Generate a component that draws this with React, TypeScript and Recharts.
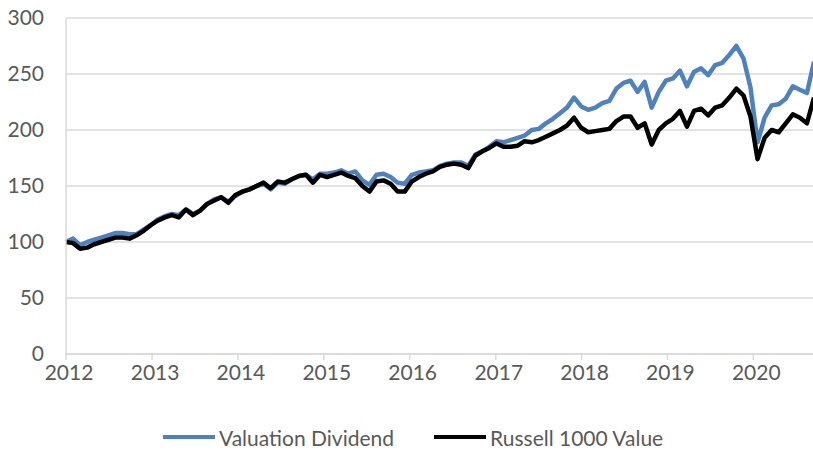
import React from "react";
import {
  LineChart,
  Line,
  XAxis,
  YAxis,
  CartesianGrid,
  Legend,
} from "recharts";

// one point every 30 days from 1 Jan 2012
const START_DATE = "2012-01-01";
const STEP_DAYS = 30;

const yearTicks = [2012, 2013, 2014, 2015, 2016, 2017, 2018, 2019, 2020];
const valueTicks = [0, 50, 100, 150, 200, 250, 300];
const seriesNames = ["Valuation Dividend", "Russell 1000 Value"];

const valuationDividend = [
  100, 103, 97, 100, 102, 104, 106, 108, 108, 107, 107, 111,
  115, 120, 123, 125, 124, 129, 125, 128, 134, 138, 140, 136,
  141, 145, 147, 150, 152, 147, 153, 152, 156, 159, 160, 156,
  161, 161, 162, 164, 161, 163, 155, 151, 160, 161, 158, 153,
  152, 160, 162, 163, 164, 168, 170, 171, 171, 168, 178, 181,
  185, 190, 189, 191, 193, 195, 200, 201, 206, 210, 215, 220,
  229, 221, 218, 220, 224, 226, 237, 242, 244, 234, 243, 220,
  234, 244, 246, 253, 239, 252, 255, 249, 258, 260, 267, 275,
  264, 238, 189, 211, 222, 223, 228, 239, 236, 233, 261,
];

const russell1000Value = [
  100, 99, 94, 95, 98, 100, 102, 104, 104, 103, 106, 110,
  115, 119, 122, 124, 122, 129, 124, 128, 134, 137, 140, 135,
  142, 145, 147, 150, 153, 148, 154, 153, 156, 159, 160, 153,
  160, 158, 160, 162, 159, 157, 150, 145, 154, 155, 152, 145,
  145, 154, 158, 161, 163, 167, 169, 170, 169, 166, 177, 181,
  184, 188, 185, 185, 186, 190, 189, 191, 194, 197, 200, 204,
  211, 202, 198, 199, 200, 201, 208, 212, 212, 202, 206, 187,
  200, 206, 210, 217, 203, 217, 219, 213, 220, 222, 229, 237,
  231, 212, 174, 193, 200, 198, 206, 214, 211, 206, 229,
];

const DAY = 24 * 3600 * 1000;
const start = Date.parse(START_DATE);

const data = russell1000Value.map((r, i) => ({
  day: i * STEP_DAYS,
  valuation: valuationDividend[i],
  russell: r,
}));

const xTicks = yearTicks.map((y) => Math.round((Date.UTC(y, 0, 1) - start) / DAY));
const lastDay = (russell1000Value.length - 1) * STEP_DAYS;

const textColor = "#595959";
const gridColor = "#d9d9d9";
const font = "Lato, 'Open Sans', sans-serif";

function yearOf(day: number) {
  return new Date(start + day * DAY).getUTCFullYear();
}

interface LegendItem {
  value: string;
  color: string;
}

function ChartLegend({ payload }: { payload?: LegendItem[] }) {
  if (!payload) return null;
  // keep series order, recharts sorts by name otherwise
  const items = [...payload].sort(
    (a, b) => seriesNames.indexOf(a.value) - seriesNames.indexOf(b.value)
  );
  return (
    <div
      style={{
        display: "flex",
        alignItems: "center",
        paddingLeft: 163,
        height: 28,
        fontFamily: font,
        fontSize: 21,
        color: textColor,
      }}
    >
      {items.map((p, i) => (
        <div
          key={p.value}
          style={{ display: "flex", alignItems: "center", marginLeft: i > 0 ? 40 : 0 }}
        >
          <span style={{ display: "inline-block", width: 52, height: 4, background: p.color }} />
          <span style={{ marginLeft: 4 }}>{p.value}</span>
        </div>
      ))}
    </div>
  );
}

export default function App() {
  return (
    <div
      style={{
        position: "fixed",
        left: 0,
        top: 0,
        width: 813,
        height: 451,
        overflow: "hidden",
        background: "#fff",
      }}
    >
      <LineChart
        width={830}
        height={451}
        data={data}
        margin={{ top: 18, right: 16, left: 0, bottom: 0 }}
      >
        <CartesianGrid vertical={false} stroke={gridColor} strokeWidth={1.5} />
        <XAxis
          dataKey="day"
          type="number"
          domain={[0, lastDay]}
          ticks={xTicks}
          tickFormatter={yearOf}
          height={69}
          tick={{ fontSize: 21, fill: textColor, fontFamily: font, dx: 3 }}
          tickSize={6}
          tickMargin={5}
          axisLine={{ stroke: gridColor, strokeWidth: 1.5 }}
          tickLine={{ stroke: gridColor, strokeWidth: 1.5 }}
        />
        <YAxis
          domain={[0, 300]}
          ticks={valueTicks}
          width={66}
          tick={{ fontSize: 21, fill: textColor, fontFamily: font }}
          tickLine={false}
          tickMargin={16}
          axisLine={{ stroke: gridColor, strokeWidth: 1.5 }}
        />
        <Legend
          verticalAlign="bottom"
          height={28}
          wrapperStyle={{ left: 0, width: 813 }}
          content={(props: any) => <ChartLegend payload={props.payload} />}
        />
        <Line
          type="linear"
          dataKey="valuation"
          name={seriesNames[0]}
          stroke="#4f81bd"
          strokeWidth={4.5}
          strokeLinejoin="round"
          dot={false}
          isAnimationActive={false}
        />
        <Line
          type="linear"
          dataKey="russell"
          name={seriesNames[1]}
          stroke="#000000"
          strokeWidth={4.5}
          strokeLinejoin="round"
          dot={false}
          isAnimationActive={false}
        />
      </LineChart>
    </div>
  );
}
